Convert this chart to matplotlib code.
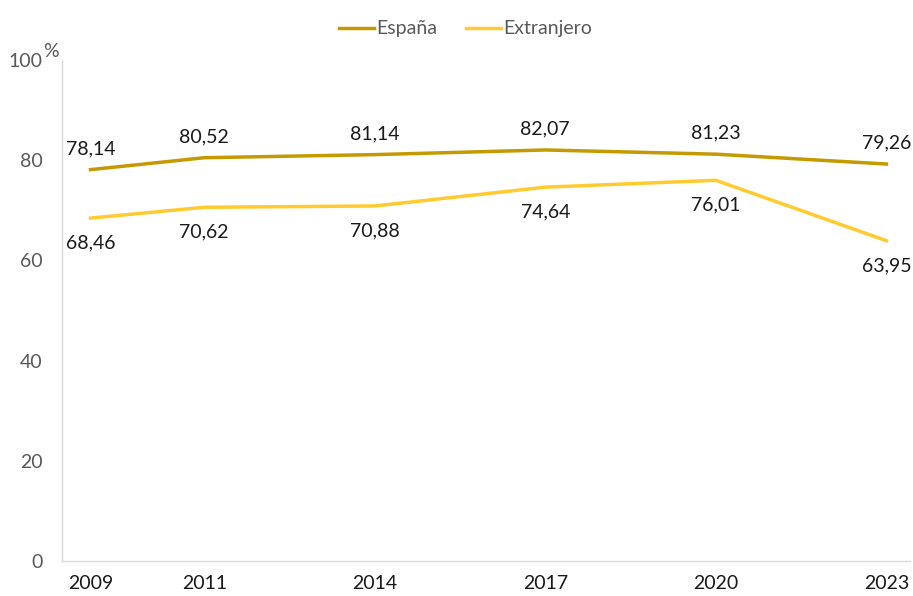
import matplotlib.pyplot as plt

years = [2009, 2011, 2014, 2017, 2020, 2023]
espana = [78.14, 80.52, 81.14, 82.07, 81.23, 79.26]
extranjero = [68.46, 70.62, 70.88, 74.64, 76.01, 63.95]

col_esp = '#C49A00'
col_ext = '#FFCB2F'

plt.rcParams['font.family'] = ['Lato', 'DejaVu Sans']

fig = plt.figure(figsize=(9.13, 5.96), dpi=100)
ax = fig.add_axes([0.068, 0.059, 0.929, 0.84])

ax.plot(years, espana, color=col_esp, lw=2.5, label='España')
ax.plot(years, extranjero, color=col_ext, lw=2.5, label='Extranjero')

def fmt(v):
    return ('%.2f' % v).replace('.', ',')

for x, v in zip(years, espana):
    ax.annotate(fmt(v), (x, v), xytext=(0, 15), textcoords='offset points',
                ha='center', va='center', fontsize=14, color='#1a1a1a')
for x, v in zip(years, extranjero):
    ax.annotate(fmt(v), (x, v), xytext=(0, -18), textcoords='offset points',
                ha='center', va='center', fontsize=14, color='#1a1a1a')

ax.set_xlim(2008.5, 2023.42)
ax.set_ylim(0, 100)
ax.set_xticks(years)
ax.set_yticks(range(0, 101, 20))
ax.tick_params(axis='both', length=0, labelsize=14)
ax.tick_params(axis='y', colors='#595959', pad=14)
ax.tick_params(axis='x', colors='#1a1a1a', pad=10)
for s in ['top', 'right']:
    ax.spines[s].set_visible(False)
for s in ['left', 'bottom']:
    ax.spines[s].set_color('#d9d9d9')
    ax.spines[s].set_linewidth(1)

ax.text(-0.022, 1.0, '%', transform=ax.transAxes, ha='left', va='bottom',
        fontsize=14, color='#595959')

leg = fig.legend(loc='upper center', bbox_to_anchor=(0.51, 0.995), ncol=2, frameon=False,
                 fontsize=14, handlelength=1.8, handletextpad=0.1, columnspacing=1.5)
for t in leg.get_texts():
    t.set_color('#595959')

fig.savefig('out.png')
